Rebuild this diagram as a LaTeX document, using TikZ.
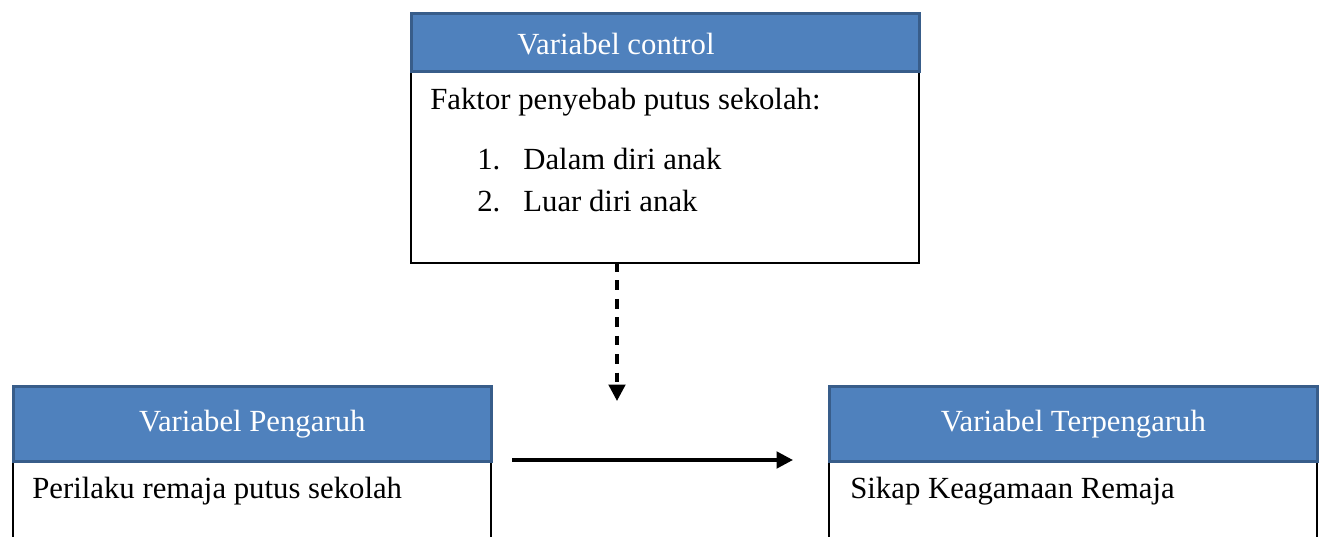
\documentclass[tikz,border=0pt]{standalone}
\usepackage{fontspec}
\setmainfont{Liberation Serif}
\usetikzlibrary{arrows.meta,positioning}
\definecolor{wordblue}{RGB}{79,129,189}
\definecolor{wordedge}{RGB}{56,93,138}
\definecolor{ink}{RGB}{0,0,0}
\tikzset{
  >={Triangle[length=3.3mm,width=3.3mm]},
  head/.style={draw=wordedge,fill=wordblue,line width=1.6pt,text=white,
    minimum width=#1,inner sep=0pt,anchor=north west,
    font=\fontsize{17.5}{21}\selectfont},
  body/.style={draw=ink,line width=1pt,fill=white,minimum width=#1,
    inner sep=0pt,anchor=north west},
  txt/.style={font=\fontsize{17.5}{21}\selectfont,text=#1,anchor=base west,inner sep=0pt},
  txt/.default=ink,
  flow/.style={->,line width=2pt,draw=ink},
}

\begin{document}
\begin{tikzpicture}[x=0.02cm,y=-0.02cm]
    \useasboundingbox (0,0) rectangle (1320,537);
    \clip (0,0) rectangle (1320,537);
    % variabel control
    \node[body=10.16cm,minimum height=3.84cm] (ctlbox) at (410,70) {};
    \node[head=10.16cm,minimum height=1.16cm] (ctl) at (410,12) {};
    \node[txt=white] (ctltxt) at (517,55) {Variabel control};
    \node[txt] (faktor) at (430,110) {Faktor penyebab putus sekolah:};
    \foreach \t [count=\i] in {Dalam diri anak,Luar diri anak}{
      \node[txt] (n\i) at (477,170+42*\i-42) {\i.};
      \node[txt] (f\i) at (523,170+42*\i-42) {\t};
    }
    % variabel pengaruh / terpengaruh
    \node[body=9.56cm,minimum height=2cm] (pengbox) at (12,460) {};
    \node[head=9.56cm,minimum height=1.5cm] (peng) at (12,385) {Variabel Pengaruh};
    \node[txt] (pengtxt) at (32,498) {Perilaku remaja putus sekolah};
    \node[body=9.76cm,minimum height=2cm] (terbox) at (828,460) {};
    \node[head=9.76cm,minimum height=1.5cm] (ter) at (828,385) {Variabel Terpengaruh};
    \node[txt] (tertxt) at (850,498) {Sikap Keagamaan Remaja};
    % arrows
    \coordinate (d0) at (617,262);
    \coordinate (d1) at (617,401);
    \coordinate (a0) at (512,460);
    \coordinate (a1) at (793,460);
    \draw[flow,dash pattern=on 5.5pt off 5pt] (d0) -- (d1);
    \draw[flow] (a0) -- (a1);
  \end{tikzpicture}
\end{document}
